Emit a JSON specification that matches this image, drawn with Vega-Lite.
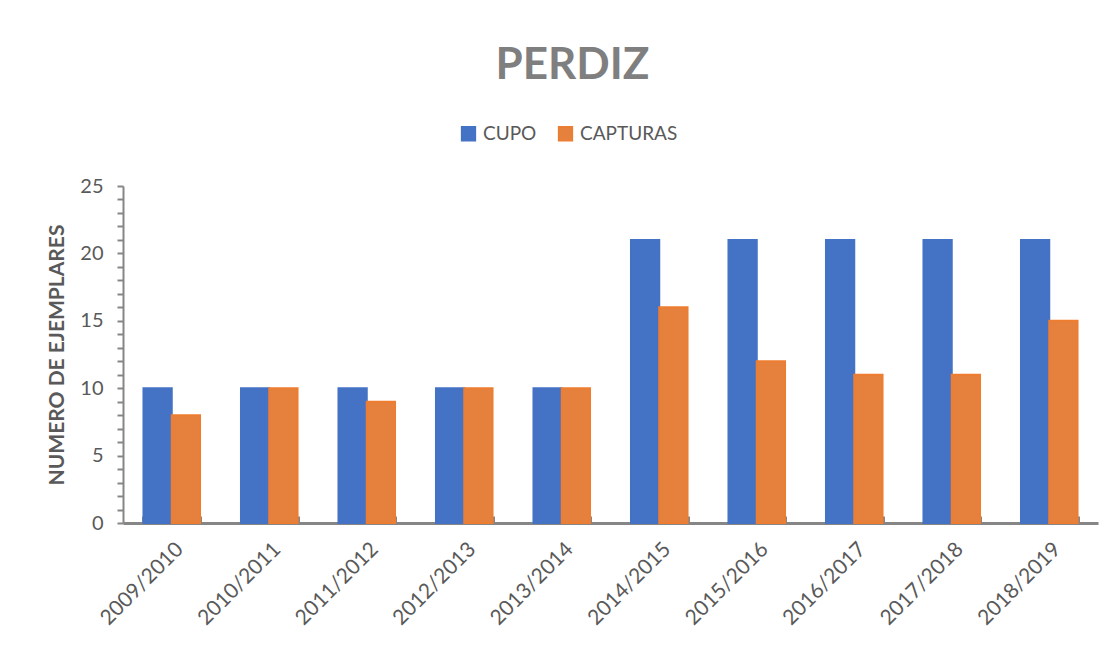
{
  "$schema": "https://vega.github.io/schema/vega-lite/v6.json",
  "width": 975,
  "height": 337,
  "autosize": {"type": "none"},
  "padding": {"left": 123, "top": 186, "right": 13, "bottom": 123},
  "background": "white",
  "config": {
    "view": {"stroke": null},
    "font": "Lato"
  },
  "title": {
    "text": "PERDIZ",
    "fontSize": 44,
    "fontWeight": "bold",
    "color": "#7F7F7F",
    "font": "Lato",
    "anchor": "middle",
    "frame": "bounds",
    "offset": 36
  },
  "data": {
    "values": [
      {"season": "2009/2010", "serie": "CUPO", "value": 10},
      {"season": "2010/2011", "serie": "CUPO", "value": 10},
      {"season": "2011/2012", "serie": "CUPO", "value": 10},
      {"season": "2012/2013", "serie": "CUPO", "value": 10},
      {"season": "2013/2014", "serie": "CUPO", "value": 10},
      {"season": "2014/2015", "serie": "CUPO", "value": 21},
      {"season": "2015/2016", "serie": "CUPO", "value": 21},
      {"season": "2016/2017", "serie": "CUPO", "value": 21},
      {"season": "2017/2018", "serie": "CUPO", "value": 21},
      {"season": "2018/2019", "serie": "CUPO", "value": 21},
      {"season": "2009/2010", "serie": "CAPTURAS", "value": 8},
      {"season": "2010/2011", "serie": "CAPTURAS", "value": 10},
      {"season": "2011/2012", "serie": "CAPTURAS", "value": 9},
      {"season": "2012/2013", "serie": "CAPTURAS", "value": 10},
      {"season": "2013/2014", "serie": "CAPTURAS", "value": 10},
      {"season": "2014/2015", "serie": "CAPTURAS", "value": 16},
      {"season": "2015/2016", "serie": "CAPTURAS", "value": 12},
      {"season": "2016/2017", "serie": "CAPTURAS", "value": 11},
      {"season": "2017/2018", "serie": "CAPTURAS", "value": 11},
      {"season": "2018/2019", "serie": "CAPTURAS", "value": 15}
    ]
  },
  "mark": {"type": "bar", "strokeWidth": 2},
  "encoding": {
    "x": {
      "field": "season",
      "type": "nominal",
      "scale": {"paddingInner": 0.42, "paddingOuter": 0.21},
      "axis": {
        "title": null,
        "labelAngle": -45,
        "labelFontSize": 21,
        "labelColor": "#595959",
        "labelFont": "Lato",
        "tickBand": "extent",
        "tickSize": -7,
        "tickWidth": 3,
        "tickColor": "#868686",
        "domainColor": "#868686",
        "domainWidth": 3,
        "labelPadding": 22
      }
    },
    "xOffset": {
      "field": "serie",
      "type": "nominal",
      "sort": ["CUPO", "CAPTURAS"],
      "scale": {"paddingInner": 0, "paddingOuter": 0}
    },
    "y": {
      "field": "value",
      "type": "quantitative",
      "scale": {"domain": [0, 25], "nice": false},
      "axis": {
        "title": "NUMERO DE EJEMPLARES",
        "titleFontSize": 21,
        "titleFontWeight": "bold",
        "titleColor": "#595959",
        "titleFont": "Lato",
        "titlePadding": 12,
        "values": [0,1,2,3,4,5,6,7,8,9,10,11,12,13,14,15,16,17,18,19,20,21,22,23,24,25],
        "labelExpr": "datum.value % 5 === 0 ? datum.label : ''",
        "labelFontSize": 20,
        "labelColor": "#595959",
        "labelFont": "Lato",
        "labelPadding": 14,
        "tickSize": 6,
        "tickWidth": 2,
        "tickColor": "#868686",
        "domainColor": "#868686",
        "domainWidth": 2,
        "grid": false
      }
    },
    "color": {
      "field": "serie",
      "type": "nominal",
      "scale": {"domain": ["CUPO", "CAPTURAS"], "range": ["#4472C4", "#E5803D"]},
      "legend": {
        "title": null,
        "orient": "none",
        "direction": "horizontal",
        "legendX": 336,
        "legendY": -62,
        "symbolType": "square",
        "symbolSize": 190,
        "labelFontSize": 19,
        "labelColor": "#595959",
        "labelFont": "Lato",
        "labelOffset": 5,
        "columnPadding": 18
      }
    },
    "stroke": {
      "field": "serie",
      "type": "nominal",
      "scale": {"domain": ["CUPO", "CAPTURAS"], "range": ["#4472C4", "#ED7D31"]},
      "legend": null
    }
  }
}
